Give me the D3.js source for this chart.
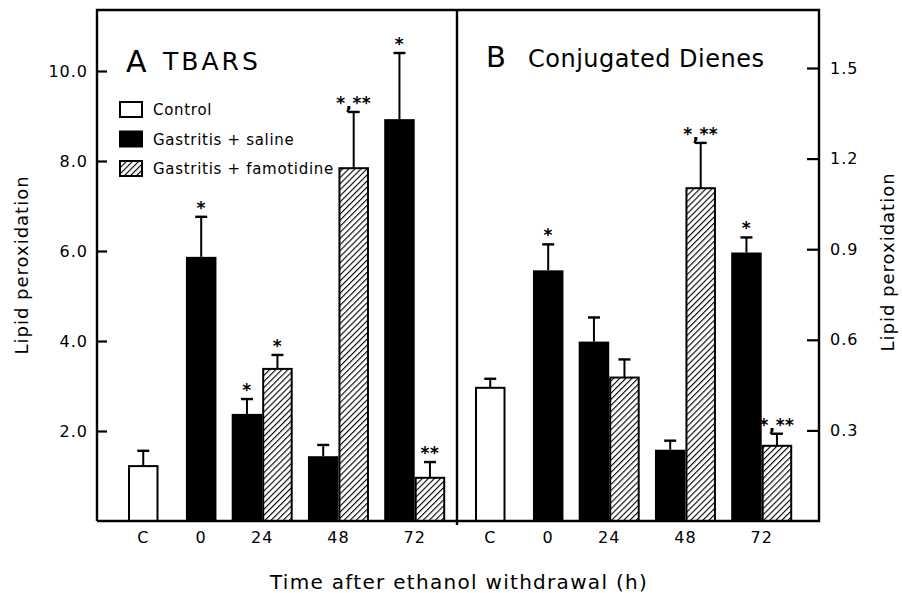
<!DOCTYPE html>
<html>
<head>
<meta charset="utf-8">
<script src="https://cdn.jsdelivr.net/npm/d3@7"></script>
<style>
  body { margin: 0; background: #fff; }
  text { font-family: "DejaVu Sans", sans-serif; fill: #000; }
</style>
</head>
<body>
<div id="vizcontainer"></div>
<script>
const width = 903,
  height = 593;

// time groups on the x axis
const categories = ['C', '0', '24', '48', '72'];

// A: TBARS (left axis)
const tbarsControl = [1.22, null, null, null, null];
const tbarsControlSE = [0.34, null, null, null, null];
const tbarsSaline = [null, 5.87, 2.38, 1.44, 8.93];
const tbarsSalineSE = [null, 0.89, 0.33, 0.25, 1.47];
const tbarsFamo = [null, null, 3.38, 7.84, 0.96];
const tbarsFamoSE = [null, null, 0.31, 1.25, 0.35];
const tbarsSalineSig = ['', '*', '*', '', '*'];
const tbarsFamoSig = ['', '', '*', '*,**', '**'];

// B: conjugated dienes (right axis)
const dienesControl = [0.441, null, null, null, null];
const dienesControlSE = [0.03, null, null, null, null];
const dienesSaline = [null, 0.83, 0.594, 0.236, 0.889];
const dienesSalineSE = [null, 0.086, 0.08, 0.03, 0.05];
const dienesFamo = [null, null, 0.475, 1.102, 0.249];
const dienesFamoSE = [null, null, 0.06, 0.15, 0.04];
const dienesSalineSig = ['', '*', '', '', '*'];
const dienesFamoSig = ['', '', '', '*,**', '*,**'];

const leftTicks = [2, 4, 6, 8, 10];
const rightTicks = [0.3, 0.6, 0.9, 1.2, 1.5];

const legendItems = ['Control', 'Gastritis + saline', 'Gastritis + famotidine'];

// frame
const fLeft = 97, fMid = 457, fRight = 819, fTop = 10, base = 521;
const barW = 30.5;

const yL = d3.scaleLinear().domain([0, 10]).range([base, 71]);
const yR = d3.scaleLinear().domain([0, 1.5]).range([base, 68]);

let viz = d3.select('#vizcontainer')
  .append('svg')
  .attr('width', width)
  .attr('height', height);

let defs = viz.append('defs');
defs.append('pattern')
  .attr('id', 'hatch')
  .attr('patternUnits', 'userSpaceOnUse')
  .attr('width', 4.3)
  .attr('height', 4.3)
  .attr('patternTransform', 'rotate(45)')
  .append('line')
  .attr('x1', 0).attr('y1', 0)
  .attr('x2', 0).attr('y2', 4.3)
  .attr('stroke', '#000')
  .attr('stroke-width', 2.2);

// lay out the bars in bar-width units: gaps between groups
const gapUnits = [0, 0.9, 0.5, 0.5, 0.5];

function layoutBars(control, controlSE, saline, salineSE, famo, famoSE, salSig, famSig) {
  let bars = [], centers = [], u = 0;
  categories.forEach((c, i) => {
    u += gapUnits[i];
    let start = u;
    if (control[i] != null) bars.push({ u: u++, v: control[i], se: controlSE[i], kind: 'control', sig: '' });
    if (saline[i] != null) bars.push({ u: u++, v: saline[i], se: salineSE[i], kind: 'saline', sig: salSig[i] });
    if (famo[i] != null) bars.push({ u: u++, v: famo[i], se: famoSE[i], kind: 'famo', sig: famSig[i] });
    centers.push({ c: c, u: (start + u) / 2 });
  });
  return { bars, centers, total: u };
}

function drawPanel(g, lay, x0, y) {
  const x = d3.scaleLinear().domain([0, lay.total]).range([x0, x0 + lay.total * barW]);

  // error bars
  let eb = g.append('g').selectAll('g')
    .data(lay.bars)
    .join('g');
  eb.append('line')
    .attr('x1', d => x(d.u + 0.5)).attr('x2', d => x(d.u + 0.5))
    .attr('y1', d => y(d.v)).attr('y2', d => y(d.v + d.se))
    .attr('stroke', '#000').attr('stroke-width', 2);
  eb.append('line')
    .attr('x1', d => x(d.u + 0.5) - 6).attr('x2', d => x(d.u + 0.5) + 6)
    .attr('y1', d => y(d.v + d.se)).attr('y2', d => y(d.v + d.se))
    .attr('stroke', '#000').attr('stroke-width', 2.4);
  eb.append('text')
    .attr('x', d => x(d.u + 0.5))
    .attr('y', d => y(d.v + d.se) - 3)
    .attr('text-anchor', 'middle')
    .style('font-size', '17px')
    .style('font-weight', 'bold')
    .style('letter-spacing', '0.5px')
    .text(d => d.sig);

  g.append('g').selectAll('rect')
    .data(lay.bars)
    .join('rect')
    .attr('x', d => x(d.u) + (d.kind === 'saline' ? 0 : 1))
    .attr('width', d => barW - (d.kind === 'saline' ? 0 : 2))
    .attr('y', d => y(d.v))
    .attr('height', d => base - y(d.v))
    .attr('fill', d => d.kind === 'saline' ? '#000' : d.kind === 'famo' ? 'url(#hatch)' : '#fff')
    .attr('stroke', '#000')
    .attr('stroke-width', d => d.kind === 'saline' ? 0 : 2);

  g.append('g').selectAll('text')
    .data(lay.centers)
    .join('text')
    .attr('x', d => x(d.u))
    .attr('y', 543)
    .attr('text-anchor', 'middle')
    .style('font-size', '16px')
    .style('letter-spacing', '1px')
    .text(d => d.c);
}

const layA = layoutBars(tbarsControl, tbarsControlSE, tbarsSaline, tbarsSalineSE, tbarsFamo, tbarsFamoSE, tbarsSalineSig, tbarsFamoSig);
const layB = layoutBars(dienesControl, dienesControlSE, dienesSaline, dienesSalineSE, dienesFamo, dienesFamoSE, dienesSalineSig, dienesFamoSig);

drawPanel(viz.append('g'), layA, 128, yL);
drawPanel(viz.append('g'), layB, 475, yR);

// frame
let frame = viz.append('g')
  .attr('fill', 'none')
  .attr('stroke', '#000')
  .attr('stroke-width', 2.4);
frame.append('path').attr('d', `M${fLeft},${base}V${fTop}H${fRight}V${base}H${fLeft}`);
frame.append('line').attr('x1', fMid).attr('x2', fMid).attr('y1', fTop).attr('y2', base + 4);

// axes with inward ticks
let axL = viz.append('g')
  .attr('transform', `translate(${fLeft},0)`)
  .call(d3.axisLeft(yL).tickValues(leftTicks).tickFormat(d3.format('.1f')).tickSize(-10).tickPadding(9));
let axR = viz.append('g')
  .attr('transform', `translate(${fRight},0)`)
  .call(d3.axisRight(yR).tickValues(rightTicks).tickFormat(d3.format('.1f')).tickSize(-12).tickPadding(11));
[axL, axR].forEach(ax => {
  ax.select('.domain').remove();
  ax.selectAll('line').attr('stroke', '#000').attr('stroke-width', 2.2);
  ax.selectAll('text')
    .style('font-family', '"DejaVu Sans", sans-serif')
    .style('font-size', '16px')
    .style('letter-spacing', '1px');
});

// axis titles
viz.append('text')
  .attr('transform', 'translate(28,265) rotate(-90)')
  .attr('text-anchor', 'middle')
  .style('font-size', '18px')
  .style('letter-spacing', '1px')
  .text('Lipid peroxidation');
viz.append('text')
  .attr('transform', 'translate(894,262) rotate(-90)')
  .attr('text-anchor', 'middle')
  .style('font-size', '18px')
  .style('letter-spacing', '1px')
  .text('Lipid peroxidation');
viz.append('text')
  .attr('x', 459)
  .attr('y', 589)
  .attr('text-anchor', 'middle')
  .style('font-size', '20px')
  .style('letter-spacing', '1.3px')
  .text('Time after ethanol withdrawal (h)');

// panel titles
viz.append('text').attr('x', 126).attr('y', 72).style('font-size', '30px').text('A');
viz.append('text').attr('x', 163).attr('y', 70).style('font-size', '25px').style('letter-spacing', '3px').text('TBARS');
viz.append('text').attr('x', 486).attr('y', 67).style('font-size', '29px').text('B');
viz.append('text').attr('x', 528).attr('y', 67).style('font-size', '24px').style('letter-spacing', '0.5px').text('Conjugated Dienes');

// legend
const legendFill = ['#fff', '#000', 'url(#hatch)'];
let lg = viz.append('g').selectAll('g')
  .data(legendItems)
  .join('g')
  .attr('transform', (d, i) => `translate(120,${102 + i * 29.5})`);
lg.append('rect')
  .attr('width', 22).attr('height', 15)
  .attr('fill', (d, i) => legendFill[i])
  .attr('stroke', '#000').attr('stroke-width', 2);
lg.append('text')
  .attr('x', 33).attr('y', 13)
  .style('font-size', '15px')
  .style('letter-spacing', '0.7px')
  .text(d => d);
</script>
</body>
</html>
